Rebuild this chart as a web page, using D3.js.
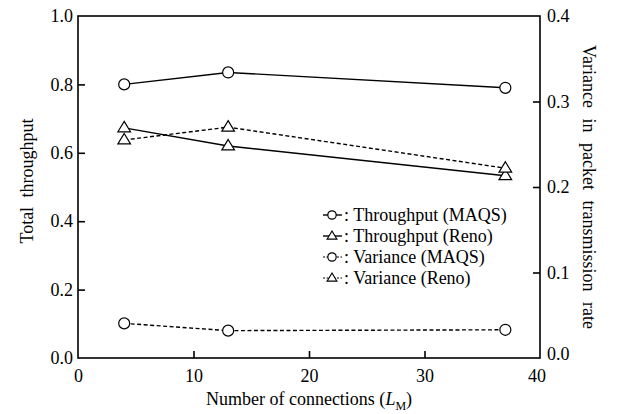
<!DOCTYPE html>
<html>
<head>
  <script src="https://d3js.org/d3.v7.min.js"></script>
</head>
<body style="margin:0">
<script>
  // values
  var connections = [4, 13, 37];
  var throughputMAQS = [0.80, 0.835, 0.79];
  var throughputReno = [0.673, 0.62, 0.533];
  var varianceMAQS = [0.0405, 0.032, 0.033];
  var varianceReno = [0.255, 0.27, 0.222];
  var xTicks = [0, 10, 20, 30, 40];
  var leftTicks = [0, 0.2, 0.4, 0.6, 0.8, 1.0];
  var rightTicks = [0, 0.1, 0.2, 0.3, 0.4];
  var legendLabels = [': Throughput (MAQS)', ': Throughput (Reno)', ': Variance (MAQS)', ': Variance (Reno)'];

  var FONT = 'Liberation Serif';
  var width = 630, height = 414;
  var margin = {left: 78, right: 90, top: 16, bottom: 56};

  var svg = d3.select('body').append('svg')
    .attr('width', width).attr('height', height);

  var x = d3.scaleLinear().domain([0, 40]).range([margin.left, width - margin.right]);
  var yL = d3.scaleLinear().domain([0, 1]).range([height - margin.bottom, margin.top]);
  var yR = d3.scaleLinear().domain([0, 0.4]).range([height - margin.bottom, margin.top]);

  function txt(sel, size) {
    return sel.style('font-family', FONT).style('font-size', size + 'px').attr('fill', '#000');
  }

  // frame
  svg.append('rect')
    .attr('x', x(0)).attr('y', yL(1))
    .attr('width', x(40) - x(0)).attr('height', yL(0) - yL(1))
    .attr('fill', 'none').attr('stroke', '#000').attr('stroke-width', 1.6);

  var xAxis = svg.append('g')
    .attr('transform', 'translate(0,' + yL(0) + ')')
    .call(d3.axisBottom(x).tickValues(xTicks).tickFormat(d3.format('d')).tickSizeInner(-7).tickSizeOuter(0).tickPadding(11));
  var lAxis = svg.append('g')
    .attr('transform', 'translate(' + x(0) + ',0)')
    .call(d3.axisLeft(yL).tickValues(leftTicks).tickFormat(d3.format('.1f')).tickSizeInner(-7).tickSizeOuter(0).tickPadding(5));
  var rAxis = svg.append('g')
    .attr('transform', 'translate(' + x(40) + ',0)')
    .call(d3.axisRight(yR).tickValues(rightTicks).tickFormat(d3.format('.1f')).tickSizeInner(-7).tickSizeOuter(0).tickPadding(7));

  [xAxis, lAxis, rAxis].forEach(function(a){
    a.attr('font-family', FONT).attr('font-size', 18);
    a.select('.domain').remove();
    a.selectAll('line').attr('stroke-width', 1.6);
    txt(a.selectAll('text'), 18);
  });
  xAxis.selectAll('.tick').filter(function(d){ return d === 0 || d === 40; }).select('line').remove();
  lAxis.selectAll('.tick').filter(function(d){ return d === 0 || d === 1; }).select('line').remove();
  rAxis.selectAll('.tick').filter(function(d){ return d === 0 || d === 0.4; }).select('line').remove();
  rAxis.selectAll('.tick').filter(function(d){ return d === 0; }).select('text').attr('dy', '0.1em');
  xAxis.selectAll('.tick').filter(function(d){ return d === 40; }).select('text').attr('dx', '-0.2em');

  // axis titles
  var xt = txt(svg.append('text'), 18)
    .attr('x', 309).attr('y', 405)
    .attr('text-anchor', 'middle');
  xt.append('tspan').text('Number of connections (');
  xt.append('tspan').style('font-style', 'italic').text('L');
  xt.append('tspan').attr('dy', 5).style('font-size', '12px').text('M');
  xt.append('tspan').attr('dy', -5).text(')');

  txt(svg.append('text'), 18)
    .attr('transform', 'translate(33,181) rotate(-90)')
    .attr('text-anchor', 'middle')
    .style('word-spacing', '5px')
    .text('Total throughput');

  txt(svg.append('text'), 18)
    .attr('transform', 'translate(583,187) rotate(90)')
    .attr('text-anchor', 'middle')
    .style('word-spacing', '6px')
    .text('Variance in packet transmission rate');

  var series = [
    {vals: throughputMAQS, y: yL, dash: null, shape: 'circle'},
    {vals: throughputReno, y: yL, dash: null, shape: 'triangle'},
    {vals: varianceMAQS, y: yR, dash: '4,2.5', shape: 'circle'},
    {vals: varianceReno, y: yR, dash: '4,2.5', shape: 'triangle'}
  ];

  function marker(g, shape, cx, cy, r) {
    if (shape === 'circle') {
      g.append('circle').attr('cx', cx).attr('cy', cy).attr('r', r)
        .attr('fill', '#fff').attr('stroke', '#000').attr('stroke-width', 1.2);
    } else {
      var h = r * 1.9;
      g.append('path')
        .attr('d', 'M' + cx + ',' + (cy - h * 0.62) + 'L' + (cx + r * 1.15) + ',' + (cy + h * 0.38) + 'L' + (cx - r * 1.15) + ',' + (cy + h * 0.38) + 'Z')
        .attr('fill', '#fff').attr('stroke', '#000').attr('stroke-width', 1.2);
    }
  }

  series.forEach(function(s){
    var line = d3.line().x(function(d, i){ return x(connections[i]); }).y(function(d){ return s.y(d); });
    svg.append('path').datum(s.vals).attr('d', line)
      .attr('fill', 'none').attr('stroke', '#000').attr('stroke-width', 1.4)
      .attr('stroke-dasharray', s.dash);
  });
  series.forEach(function(s){
    var g = svg.append('g');
    s.vals.forEach(function(v, i){ marker(g, s.shape, x(connections[i]), s.y(v), 5.5); });
  });

  // legend
  var legend = svg.append('g');
  series.forEach(function(s, i){
    var ly = 215 + i * 21;
    legend.append('line').attr('x1', 323).attr('x2', 342).attr('y1', ly).attr('y2', ly)
      .attr('stroke', '#000').attr('stroke-width', s.dash ? 1 : 1.4).attr('stroke-dasharray', s.dash ? '2,1.5' : null);
    marker(legend, s.shape, 332, ly, 4.2);
    txt(legend.append('text'), 18).attr('x', 344).attr('y', ly + 6).text(legendLabels[i]);
  });
</script>
</body>
</html>
